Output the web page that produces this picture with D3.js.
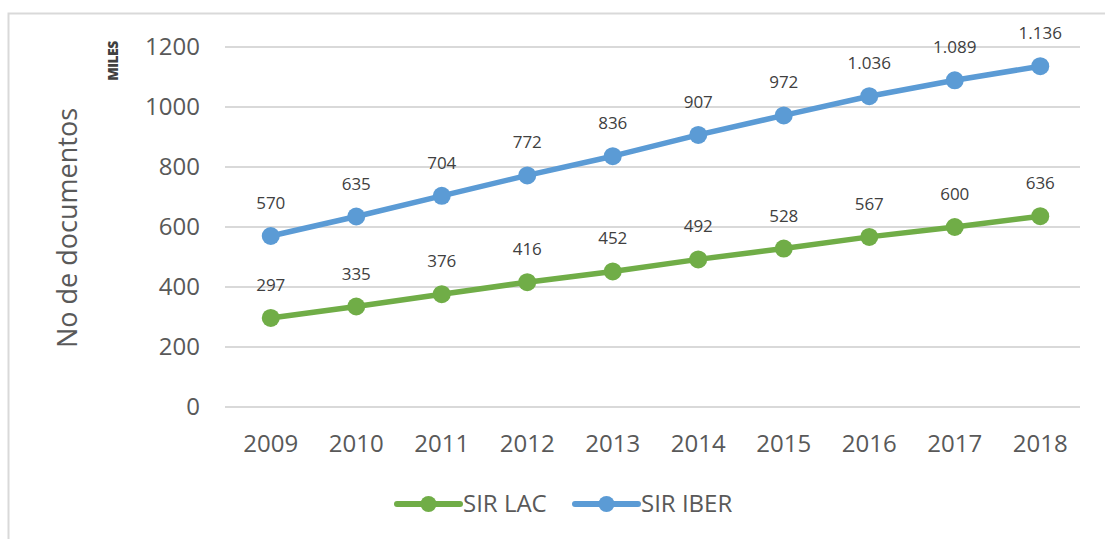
<!DOCTYPE html>
<html>
<head>
<meta charset="utf-8">
<script src="https://cdn.jsdelivr.net/npm/d3@7"></script>
<style>
  body { margin: 0; background: #fff; }
  text { font-family: "Open Sans", "Liberation Sans", sans-serif; fill: #595959; }
</style>
</head>
<body>
<script>
// datos
var years = ["2009", "2010", "2011", "2012", "2013", "2014", "2015", "2016", "2017", "2018"];
var sirLac = [297, 335, 376, 416, 452, 492, 528, 567, 600, 636];
var sirIber = [570, 635, 704, 772, 836, 907, 972, 1036, 1089, 1136];
var yTicks = [0, 200, 400, 600, 800, 1000, 1200];

var W = 1105, H = 539;
var margin = {top: 47, left: 225, right: 25, bottom: 132};
var width = W - margin.left - margin.right,
    height = H - margin.top - margin.bottom;

var svg = d3.select("body").append("svg")
    .attr("width", W)
    .attr("height", H);

// marco
svg.append("rect")
    .attr("x", 8.5).attr("y", 13.5)
    .attr("width", 1110).attr("height", 540)
    .attr("fill", "none")
    .attr("stroke", "#d9d9d9")
    .attr("stroke-width", 2);

var g = svg.append("g")
    .attr("transform", "translate(" + margin.left + "," + margin.top + ")");

var x = d3.scaleBand().domain(years).range([3, width + 3]);
var y = d3.scaleLinear().domain([0, 1200]).range([height, 0]);

// grid
g.selectAll(".grid").data(yTicks).enter().append("line")
    .attr("x1", 0).attr("x2", width)
    .attr("y1", function(d) { return y(d); })
    .attr("y2", function(d) { return y(d); })
    .attr("stroke", "#d9d9d9")
    .attr("stroke-width", 2);

// eje Y
g.selectAll(".ytick").data(yTicks).enter().append("text")
    .attr("x", -25)
    .attr("y", function(d) { return y(d); })
    .attr("dy", "0.35em")
    .attr("text-anchor", "end")
    .style("font-size", "24px")
    .text(function(d) { return d; });

// eje X
g.selectAll(".xtick").data(years).enter().append("text")
    .attr("x", function(d) { return x(d) + x.bandwidth() / 2; })
    .attr("y", height + 45)
    .attr("text-anchor", "middle")
    .style("font-size", "24px")
    .text(function(d) { return d; });

// titulo eje
svg.append("text")
    .attr("transform", "translate(77,228) rotate(-90)")
    .attr("text-anchor", "middle")
    .style("font-size", "27px")
    .text("No de documentos");

svg.append("text")
    .attr("transform", "translate(118,61) rotate(-90)")
    .attr("text-anchor", "middle")
    .style("font-size", "14px")
    .style("font-weight", "800")
    .style("letter-spacing", "-0.6px")
    .style("fill", "#404040")
    .text("MILES");

var series = [
  {name: "SIR LAC", values: sirLac, color: "#70AD47", fmt: function(v) { return String(v); }},
  {name: "SIR IBER", values: sirIber, color: "#5B9BD5", fmt: function(v) { return v >= 1000 ? d3.format(",")(v).replace(",", ".") : String(v); }}
];

var line = d3.line()
    .x(function(d, i) { return x(years[i]) + x.bandwidth() / 2; })
    .y(function(d) { return y(d); });

series.forEach(function(s) {
  g.append("path")
      .attr("d", line(s.values))
      .attr("fill", "none")
      .attr("stroke", s.color)
      .attr("stroke-width", 5.5)
      .attr("stroke-linejoin", "round")
      .attr("stroke-linecap", "round");

  g.selectAll(null).data(s.values).enter().append("circle")
      .attr("cx", function(d, i) { return x(years[i]) + x.bandwidth() / 2; })
      .attr("cy", function(d) { return y(d); })
      .attr("r", 9)
      .attr("fill", s.color);

  g.selectAll(null).data(s.values).enter().append("text")
      .attr("x", function(d, i) { return x(years[i]) + x.bandwidth() / 2; })
      .attr("y", function(d) { return y(d) - 27; })
      .attr("text-anchor", "middle")
      .style("font-size", "17px")
      .style("fill", "#404040")
      .text(function(d) { return s.fmt(d); });
});

// leyenda
var legendX = [397, 575];
series.forEach(function(s, i) {
  var lg = svg.append("g").attr("transform", "translate(" + legendX[i] + ",504)");
  lg.append("line")
      .attr("x1", 0).attr("x2", 63)
      .attr("stroke", s.color)
      .attr("stroke-width", 6)
      .attr("stroke-linecap", "round");
  lg.append("circle").attr("cx", 31.5).attr("r", 8).attr("fill", s.color);
  lg.append("text")
      .attr("x", 66).attr("dy", "0.35em")
      .style("font-size", "24px")
      .text(s.name);
});
</script>
</body>
</html>
